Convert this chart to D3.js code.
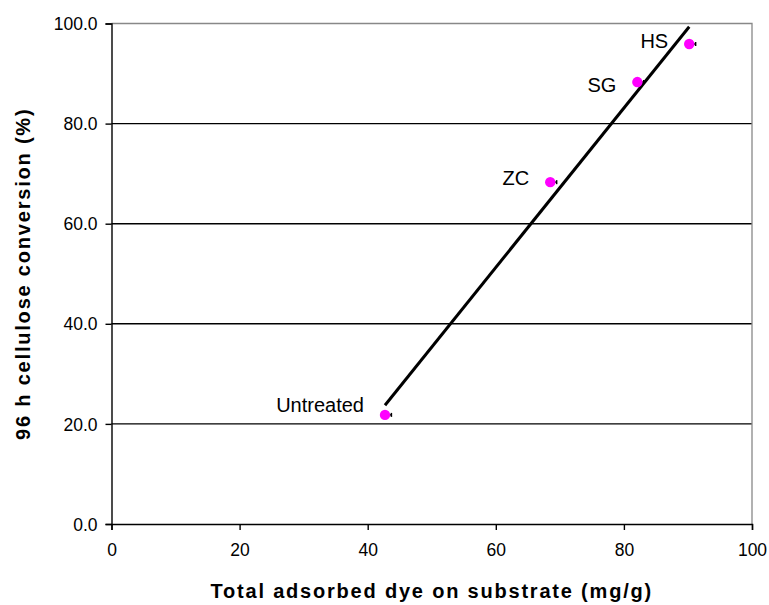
<!DOCTYPE html>
<html>
<head>
<meta charset="utf-8">
<script src="https://cdn.jsdelivr.net/npm/d3@7"></script>
<style>
  body { margin: 0; background: #fff; }
  svg { display: block; font-family: "Liberation Sans", Arial, sans-serif; }
</style>
</head>
<body>
<div id="chart"></div>
<script>
// substrate data
const substrates = ['Untreated', 'ZC', 'SG', 'HS'];
const dyeAdsorbed = [42.7, 68.5, 82.1, 90.2];     // mg/g
const conversion = [21.8, 68.3, 88.3, 95.9];      // %
const dyeError = [1.0, 1.0, 1.0, 1.0];

const xTicks = [0, 20, 40, 60, 80, 100];
const yTicks = [0, 20, 40, 60, 80, 100];

const width = 769, height = 605;
const margin = {top: 23.5, right: 17, bottom: 81, left: 111.5};

// hand placed labels, like in the original sheet (pixel nudges)
const labelNudge = {Untreated: -3, ZC: 3, SG: 10, HS: 4};

const svg = d3.select('#chart')
    .append('svg')
    .attr('width', width)
    .attr('height', height);

const x = d3.scaleLinear()
    .domain([0, 100])
    .range([margin.left, width - margin.right]);

const y = d3.scaleLinear()
    .domain([0, 100])
    .range([height - margin.bottom, margin.top]);

// gridlines
svg.append('g')
    .selectAll('line')
    .data(yTicks.filter(d => d > 0 && d < 100))
    .join('line')
    .attr('x1', x(0)).attr('x2', x(100))
    .attr('y1', d => y(d)).attr('y2', d => y(d))
    .attr('stroke', '#000')
    .attr('stroke-width', 1.4);

// plot frame (top / right in gray)
svg.append('path')
    .attr('d', `M${x(0)},${y(100)}H${x(100)}V${y(0)}`)
    .attr('fill', 'none')
    .attr('stroke', '#888')
    .attr('stroke-width', 1.3);

// axes
const xAxis = svg.append('g')
    .attr('transform', `translate(0,${y(0)})`)
    .call(d3.axisBottom(x).tickValues(xTicks).tickSize(6).tickPadding(14));

const yAxis = svg.append('g')
    .attr('transform', `translate(${x(0)},0)`)
    .call(d3.axisLeft(y).tickValues(yTicks).tickSize(6).tickPadding(8)
        .tickFormat(d3.format('.1f')));

[xAxis, yAxis].forEach(g => {
    g.select('.domain').attr('stroke', '#000').attr('stroke-width', 1.4);
    g.selectAll('.tick line').attr('stroke', '#000').attr('stroke-width', 1.4);
    g.selectAll('.tick text')
        .attr('font-size', 17.5)
        .attr('font-family', '"Liberation Sans", Arial, sans-serif')
        .attr('fill', '#000');
});
yAxis.selectAll('.tick text').attr('dy', '0.35em');

// linear trendline (least squares)
const n = dyeAdsorbed.length;
const mx = d3.mean(dyeAdsorbed), my = d3.mean(conversion);
let sxy = 0, sxx = 0;
for (let i = 0; i < n; i++) {
    sxy += (dyeAdsorbed[i] - mx) * (conversion[i] - my);
    sxx += (dyeAdsorbed[i] - mx) ** 2;
}
const slope = sxy / sxx;
const intercept = my - slope * mx;
const xr = d3.extent(dyeAdsorbed);

svg.append('line')
    .attr('x1', x(xr[0])).attr('y1', y(slope * xr[0] + intercept))
    .attr('x2', x(xr[1])).attr('y2', y(slope * xr[1] + intercept))
    .attr('stroke', '#000')
    .attr('stroke-width', 3);

// error bars
const pts = substrates.map((s, i) => ({
    name: s, dx: dyeAdsorbed[i], cv: conversion[i], err: dyeError[i]
}));

const eb = svg.append('g').attr('stroke', '#000').attr('stroke-width', 1.5);
eb.selectAll('line.bar')
    .data(pts)
    .join('line')
    .attr('class', 'bar')
    .attr('x1', d => x(d.dx)).attr('x2', d => x(d.dx + d.err))
    .attr('y1', d => y(d.cv)).attr('y2', d => y(d.cv));
eb.selectAll('line.cap')
    .data(pts)
    .join('line')
    .attr('class', 'cap')
    .attr('x1', d => x(d.dx + d.err)).attr('x2', d => x(d.dx + d.err))
    .attr('y1', d => y(d.cv) - 2).attr('y2', d => y(d.cv) + 2);

// markers
svg.append('g')
    .selectAll('circle')
    .data(pts)
    .join('circle')
    .attr('cx', d => x(d.dx))
    .attr('cy', d => y(d.cv))
    .attr('r', 5.2)
    .attr('fill', '#ff00ff');

// point labels
svg.append('g')
    .selectAll('text')
    .data(pts)
    .join('text')
    .attr('x', d => x(d.dx) - 21)
    .attr('y', d => y(d.cv) + labelNudge[d.name])
    .attr('text-anchor', 'end')
    .attr('font-size', 20)
    .text(d => d.name);

// axis titles
svg.append('text')
    .attr('x', (x(0) + x(100)) / 2)
    .attr('y', 598)
    .attr('text-anchor', 'middle')
    .attr('font-size', 20)
    .attr('font-weight', 'bold')
    .attr('letter-spacing', 1.8)
    .text('Total adsorbed dye on substrate (mg/g)');

svg.append('text')
    .attr('transform', `translate(30,${(y(0) + y(100)) / 2}) rotate(-90)`)
    .attr('text-anchor', 'middle')
    .attr('font-size', 20)
    .attr('font-weight', 'bold')
    .attr('letter-spacing', 1.8)
    .text('96 h cellulose conversion (%)');
</script>
</body>
</html>
